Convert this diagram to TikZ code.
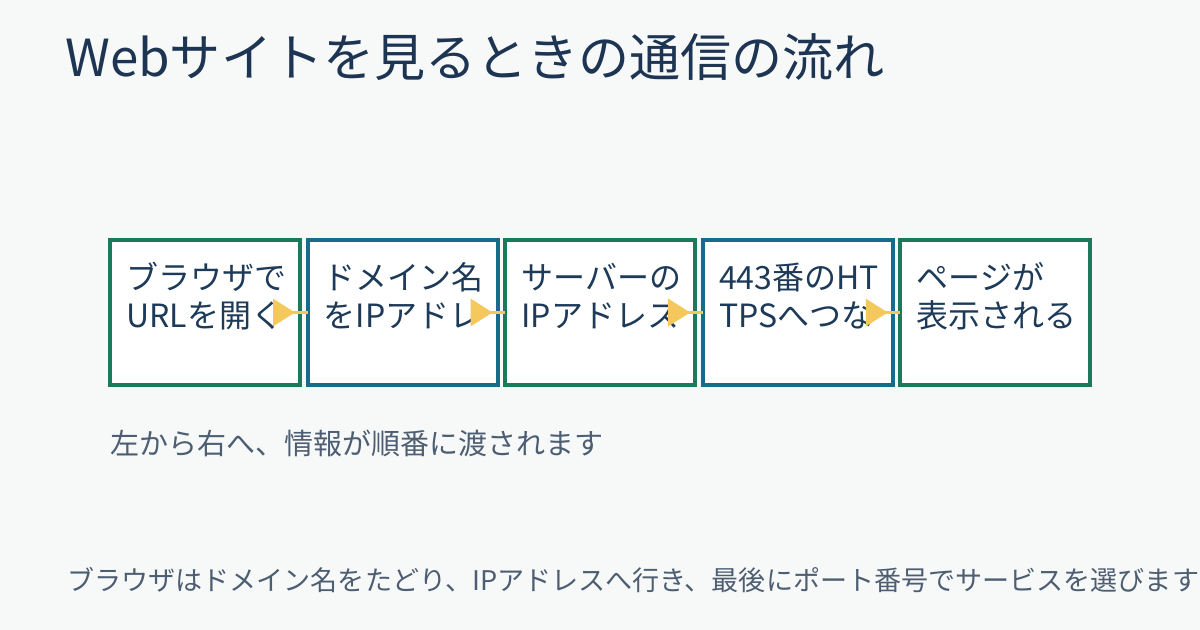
\documentclass[tikz,border=0pt]{standalone}
\usepackage{fontspec}
\setmainfont{Noto Sans CJK JP}
\usepackage{xcolor}
\usetikzlibrary{arrows.meta,calc}

\definecolor{bgpaper}{HTML}{F7F9F9}
\definecolor{titleink}{HTML}{1D3552}
\definecolor{boxink}{HTML}{1D3A58}
\definecolor{noteink}{HTML}{4E5E72}
\definecolor{stepgreen}{HTML}{1C7A5C}
\definecolor{stepblue}{HTML}{186B8B}
\definecolor{flowyellow}{HTML}{F4C85C}

\tikzset{
  stepbox/.style={draw=#1, fill=white, line width=3pt, minimum width=142.5pt,
    minimum height=108.75pt, inner sep=0pt, outer sep=0pt},
  steptext/.style={anchor=west, inner sep=0pt, align=left, text=boxink,
    font=\fontsize{24}{28.5}\selectfont},
  flowline/.style={draw=flowyellow, line width=2.25pt,
    {Triangle[reversed,length=16.5pt,width=20.25pt]}-},
  plaintext/.style={anchor=west, inner sep=0pt},
}

\begin{document}
\begin{tikzpicture}[x=0.75pt,y=-0.75pt]
                    % Paper
                    \fill [bgpaper] (0,0) rectangle (1200,630);%
                    \useasboundingbox (0,0) rectangle (1200,630);%

                    % Title
                    \node [plaintext, text=titleink, font=\fontsize{38.3}{44}\selectfont] (title) at (65,57) {Webサイトを見るときの通信の流れ};%

                    % Drawing the five step boxes
                    \node [stepbox=stepgreen] (b1) at (205.0,312.5) {};%
                    \node [stepbox=stepblue]  (b2) at (402.6,312.5) {};%
                    \node [stepbox=stepgreen] (b3) at (600.2,312.5) {};%
                    \node [stepbox=stepblue]  (b4) at (797.8,312.5) {};%
                    \node [stepbox=stepgreen] (b5) at (995.4,312.5) {};%

                    % Texts of the steps
                    \node [steptext] (t1) at ([xshift=12pt,yshift=12.4pt]b1.west) {ブラウザで\\URLを開く};%
                    \node [steptext] (t2) at ([xshift=12pt,yshift=12.4pt]b2.west) {ドメイン名\\をIPアドレ};%
                    \node [steptext] (t3) at ([xshift=12pt,yshift=12.4pt]b3.west) {サーバーの\\IPアドレス};%
                    \node [steptext] (t4) at ([xshift=12pt,yshift=12.4pt]b4.west) {443番のHT\\TPSへつな};%
                    \node [steptext] (t5) at ([xshift=12pt,yshift=12.4pt]b5.west) {ページが\\表示される};%

                    % Drawing arrows between the boxes
                    \draw [flowline] ([xshift=-20.25pt]b1.east) -- (b2.west);%
                    \draw [flowline] ([xshift=-20.25pt]b2.east) -- (b3.west);%
                    \draw [flowline] ([xshift=-20.25pt]b3.east) -- (b4.west);%
                    \draw [flowline] ([xshift=-20.25pt]b4.east) -- (b5.west);%

                    % Notes
                    \node [plaintext, text=noteink, font=\fontsize{21.75}{26}\selectfont] (note) at (110,443) {左から右へ、情報が順番に渡されます};%
                    \node [plaintext, text=noteink, font=\fontsize{20.3}{24}\selectfont] (foot) at (67,580) {ブラウザはドメイン名をたどり、IPアドレスへ行き、最後にポート番号でサービスを選びます};%
                \end{tikzpicture}
\end{document}
